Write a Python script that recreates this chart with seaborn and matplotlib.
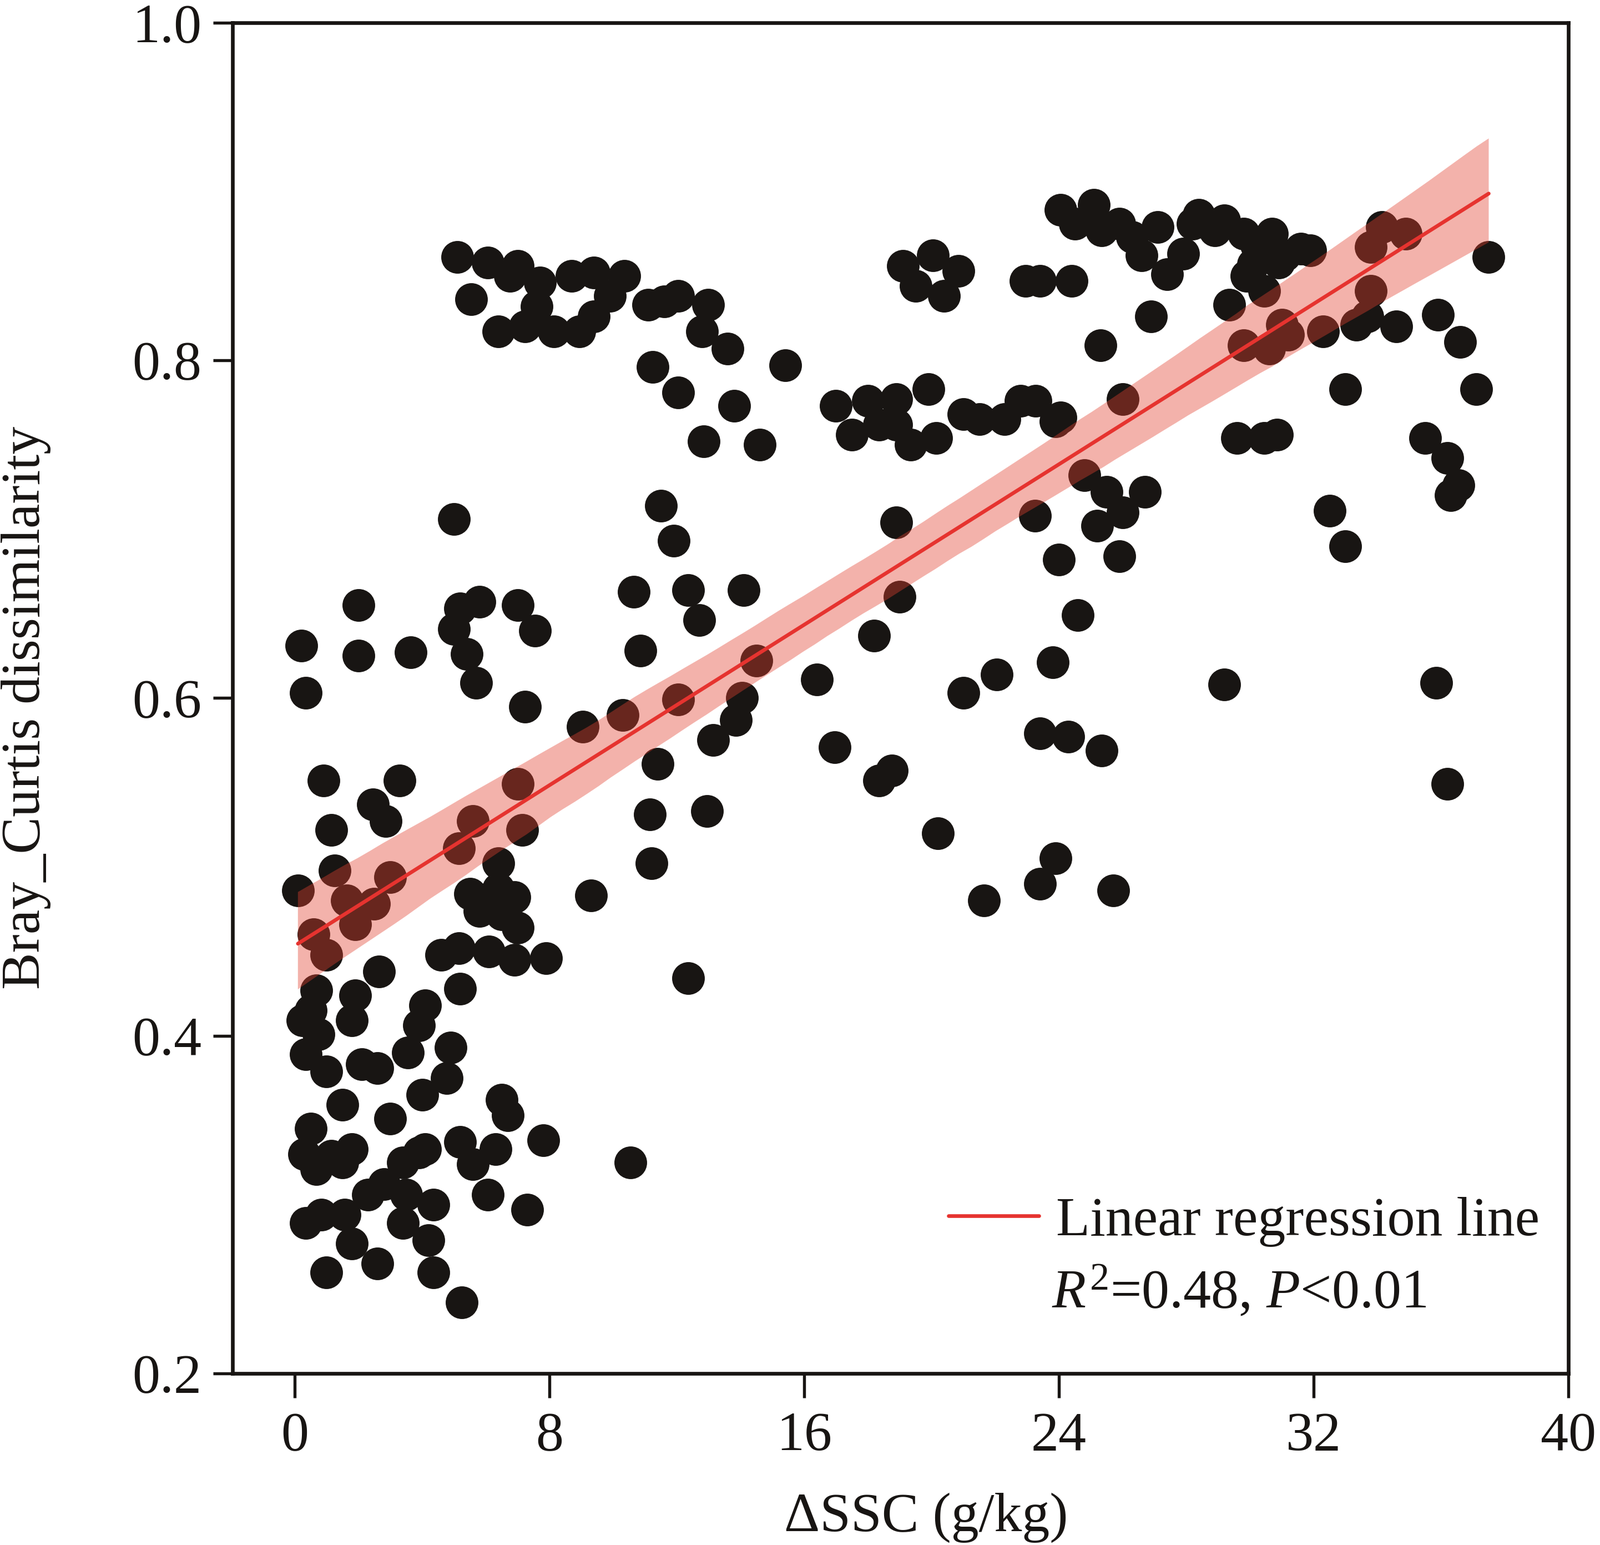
import numpy as np
import pandas as pd
import matplotlib
matplotlib.use("Agg")
import matplotlib.pyplot as plt
import seaborn as sns
from matplotlib.lines import Line2D

# ---- data ----
delta_ssc = [
    # upper band, x 5-16
    5.1, 5.55, 6.06, 6.4, 6.76, 7.0, 7.24, 7.7, 7.6, 8.14, 8.7, 8.94, 9.4, 9.4, 9.9, 10.35,
    11.1, 11.25, 11.6, 12.05, 12.05, 12.98, 12.8, 13.6, 13.8, 12.85, 14.6, 15.4,
    # mid-upper x 16-38
    17.0, 17.5, 18.0, 18.35, 18.9, 18.9, 19.35, 19.1, 19.5, 20.05, 20.4, 20.85, 19.9, 20.15,
    21.0, 21.5, 22.3, 22.8, 23.27, 24.06, 22.95, 23.4, 24.4, 24.06, 24.5, 25.1, 25.35, 25.9,
    26.3, 26.6, 25.3, 26.9, 27.1, 27.4, 27.9, 28.2, 28.4, 28.9, 29.2, 29.8, 30.1, 30.7,
    30.45, 31.6, 31.1, 31.9, 29.35, 30.45, 29.8, 30.6, 31.0, 31.2, 32.3, 29.6, 30.45, 30.85,
    33.0, 33.35, 33.7, 33.8, 33.8, 34.15, 34.9, 34.6, 35.9, 36.6, 37.1, 37.5, 35.5, 36.2,
    36.55, 36.3, 32.5, 33.0, 35.85, 36.2, 29.2, 26.7, 26.0, 25.5, 25.2, 24.8, 25.9, 24.6,
    24.0, 23.25, 23.9, 23.8, 23.4, 24.3, 25.35, 23.9, 23.4, 25.7, 26.0, 22.05, 21.0, 20.2,
    21.65, 18.9, 19.0, 18.2, 16.4, 16.95, 18.35, 18.75, 30.2, 30.9, 29.9,
    # left-mid x 4-15
    5.0, 5.0, 5.2, 5.8, 5.4, 5.7, 7.0, 7.55, 7.24, 7.0, 7.15, 5.6, 5.15, 6.4, 5.5, 6.06,
    6.4, 6.9, 5.8, 6.5, 7.0, 6.1, 6.9, 7.9, 5.15, 4.6, 5.2, 9.3, 9.05, 10.3, 10.65, 10.85,
    11.5, 11.9, 12.35, 12.7, 12.05, 11.4, 11.15, 11.2, 12.35, 13.15, 12.95, 13.85, 14.05,
    14.1, 14.5, 10.55,
    # far left x 0-5
    0.2, 0.35, 0.1, 0.6, 1.0, 0.67, 0.9, 1.15, 1.25, 1.63, 1.9, 2.0, 2.0, 2.5, 3.0, 2.45,
    2.85, 3.3, 3.65, 2.65, 0.25, 0.35, 0.75, 0.5, 1.0, 1.5, 1.9, 1.8, 2.1, 2.6, 3.55, 3.9,
    4.1, 4.0, 4.9, 4.77, 3.0, 0.5, 0.3, 0.67, 1.15, 1.8, 1.5, 0.35, 0.83, 1.57, 1.0, 1.8,
    2.6, 2.3, 2.8, 3.4, 3.9, 4.1, 3.5, 3.4, 4.35, 4.2, 4.35, 5.25, 5.2, 5.6, 6.06, 6.3,
    6.5, 6.7, 7.3, 7.8,
]
bray_curtis = [
    # upper band, x 5-16
    0.861, 0.836, 0.858, 0.817, 0.850, 0.856, 0.820, 0.846, 0.832, 0.817, 0.850, 0.817, 0.852,
    0.826, 0.838, 0.850, 0.833, 0.796, 0.835, 0.838, 0.781, 0.833, 0.817, 0.807, 0.773, 0.752,
    0.750, 0.797,
    # mid-upper x 16-38
    0.773, 0.756, 0.776, 0.762, 0.777, 0.762, 0.750, 0.856, 0.844, 0.862, 0.838, 0.853, 0.783,
    0.754, 0.768, 0.765, 0.765, 0.776, 0.776, 0.766, 0.847, 0.847, 0.847, 0.889, 0.881, 0.892,
    0.877, 0.881, 0.873, 0.862, 0.809, 0.826, 0.879, 0.851, 0.863, 0.881, 0.886, 0.877, 0.883,
    0.875, 0.857, 0.875, 0.865, 0.866, 0.862, 0.865, 0.833, 0.841, 0.809, 0.807, 0.821, 0.815,
    0.817, 0.754, 0.754, 0.756, 0.783, 0.821, 0.826, 0.841, 0.867, 0.879, 0.875, 0.820, 0.827,
    0.811, 0.783, 0.861, 0.754, 0.742, 0.726, 0.720, 0.711, 0.690, 0.609, 0.549, 0.608, 0.722,
    0.710, 0.722, 0.702, 0.732, 0.684, 0.649, 0.682, 0.708, 0.764, 0.621, 0.579, 0.577, 0.569,
    0.505, 0.490, 0.486, 0.777, 0.614, 0.603, 0.520, 0.480, 0.704, 0.660, 0.637, 0.611, 0.571,
    0.551, 0.557, 0.868, 0.858, 0.850,
    # left-mid x 4-15
    0.706, 0.641, 0.653, 0.657, 0.626, 0.609, 0.655, 0.640, 0.595, 0.549, 0.522, 0.527, 0.511,
    0.502, 0.484, 0.481, 0.487, 0.482, 0.474, 0.472, 0.464, 0.450, 0.445, 0.446, 0.452, 0.448,
    0.428, 0.483, 0.583, 0.590, 0.663, 0.628, 0.714, 0.693, 0.664, 0.646, 0.599, 0.561, 0.531,
    0.502, 0.434, 0.575, 0.533, 0.587, 0.600, 0.664, 0.622, 0.325,
    # far left x 0-5
    0.631, 0.603, 0.486, 0.460, 0.448, 0.427, 0.551, 0.522, 0.498, 0.480, 0.466, 0.655, 0.625,
    0.478, 0.494, 0.537, 0.527, 0.551, 0.627, 0.438, 0.409, 0.389, 0.401, 0.415, 0.379, 0.359,
    0.424, 0.409, 0.383, 0.381, 0.390, 0.406, 0.418, 0.365, 0.393, 0.375, 0.351, 0.345, 0.330,
    0.321, 0.329, 0.333, 0.325, 0.289, 0.294, 0.294, 0.260, 0.277, 0.265, 0.306, 0.312, 0.325,
    0.331, 0.333, 0.306, 0.289, 0.300, 0.279, 0.260, 0.242, 0.337, 0.324, 0.306, 0.333, 0.362,
    0.353, 0.297, 0.338,
]
x_ticks = [0, 8, 16, 24, 32, 40]
y_ticks = [0.2, 0.4, 0.6, 0.8, 1.0]
x_label = "ΔSSC (g/kg)"
y_label = "Bray_Curtis dissimilarity"
legend_label = "Linear regression line"
stats_label = r"$\mathit{R}^{2}$=0.48, $\mathit{P}$<0.01"

df = pd.DataFrame({"dssc": delta_ssc, "bc": bray_curtis})

# ---- styling ----
sns.set_theme(style="white")
plt.rcParams["font.family"] = ["Liberation Serif", "DejaVu Serif"]
plt.rcParams["mathtext.fontset"] = "custom"
plt.rcParams["mathtext.rm"] = "Liberation Serif"
plt.rcParams["mathtext.it"] = "Liberation Serif:italic"
plt.rcParams["axes.unicode_minus"] = False

fig = plt.figure(figsize=(2883 / 300, 2783 / 300), dpi=300)
ax = fig.add_axes([0.1454, 0.111, 0.8348, 0.8744])

line_color = "#e6332f"
sns.regplot(
    data=df, x="dssc", y="bc", ax=ax, ci=95, truncate=True,
    scatter_kws=dict(s=200, color="#181513", alpha=1, linewidths=0),
    line_kws=dict(color=line_color, lw=1.6),
    color=line_color,
)
# make confidence band salmon
for coll in ax.collections[1:]:
    coll.set_facecolor("#e2402f")
    coll.set_alpha(0.4)
    coll.set_edgecolor("none")

ax.set_xlim(-1.95, 40)
ax.set_ylim(0.2, 1.0)
ax.set_xticks(x_ticks)
ax.set_xticklabels([str(v) for v in x_ticks])
ax.set_yticks(y_ticks)
ax.set_yticklabels([f"{v:.1f}" for v in y_ticks])

for sp in ax.spines.values():
    sp.set_linewidth(1.6)
    sp.set_color("#181513")

ax.tick_params(axis="x", which="major", direction="out", length=10.5, width=1.3,
               color="#181513", labelsize=24, pad=6, bottom=True)
ax.tick_params(axis="y", which="major", direction="out", length=8.5, width=1.3,
               color="#181513", labelsize=24, pad=5, left=True)
for lab in ax.get_xticklabels() + ax.get_yticklabels():
    lab.set_color("#181513")

ax.set_xlabel(x_label, fontsize=24, color="#181513")
ax.set_ylabel(y_label, fontsize=24, color="#181513")
ax.xaxis.set_label_coords(0.519, -0.088)
ax.yaxis.set_label_coords(-0.136, 0.493)

handle = Line2D([], [], color=line_color, lw=1.6)
leg = ax.legend([handle], [legend_label], loc="center left",
                bbox_to_anchor=(0.536, 0.1125), frameon=False, fontsize=24,
                handlelength=1.63, handletextpad=0.31, borderaxespad=0, borderpad=0)
for t in leg.get_texts():
    t.set_color("#181513")

ax.text(0.613, 0.060, stats_label, transform=ax.transAxes, fontsize=24,
        ha="left", va="center", color="#181513")

fig.savefig("out.png", dpi=300)
